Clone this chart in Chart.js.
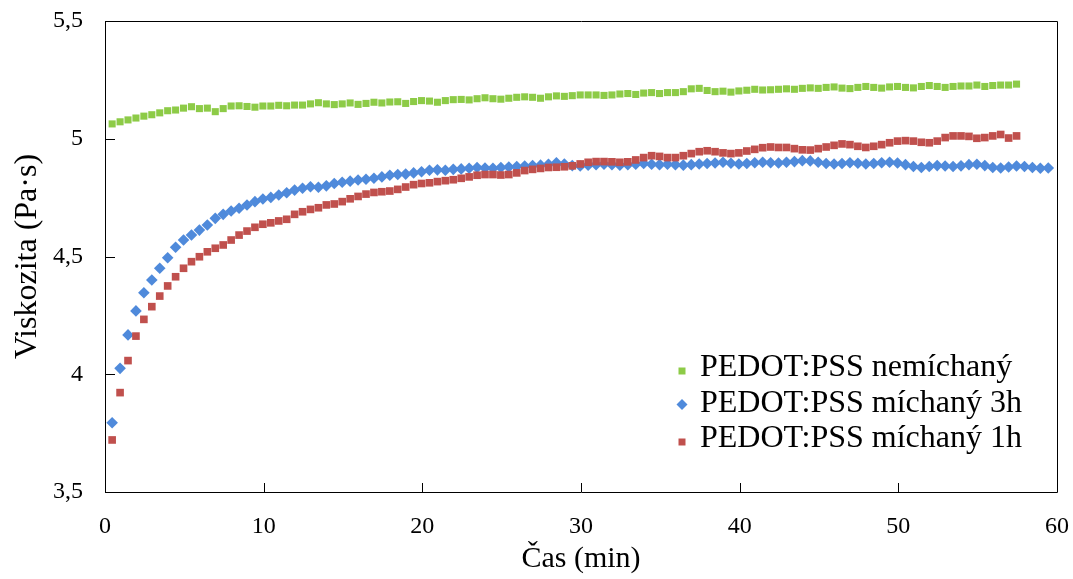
<!DOCTYPE html>
<html>
<head>
<meta charset="utf-8">
<script src="https://cdn.jsdelivr.net/npm/chart.js@4.4.1/dist/chart.umd.min.js"></script>
<style>
  html, body { margin: 0; padding: 0; background: #fff; }
  #wrap { width: 1073px; height: 579px; }
</style>
</head>
<body>
<div id="wrap"><canvas id="c" width="1073" height="579"></canvas></div>
<script>
// ---- data ----
const seriesNames = ['PEDOT:PSS nemíchaný', 'PEDOT:PSS míchaný 3h', 'PEDOT:PSS míchaný 1h'];
const xTickLabels = ['0', '10', '20', '30', '40', '50', '60'];
const yTickLabels = ['3,5', '4', '4,5', '5', '5,5'];

const time = [
  0.45, 0.95, 1.45, 1.95, 2.45, 2.95, 3.45, 3.95, 4.45, 4.95,
  5.45, 5.95, 6.45, 6.95, 7.45, 7.95, 8.45, 8.95, 9.45, 9.95,
  10.45, 10.95, 11.45, 11.95, 12.45, 12.95, 13.45, 13.95, 14.45, 14.95,
  15.45, 15.95, 16.45, 16.95, 17.45, 17.95, 18.45, 18.95, 19.45, 19.95,
  20.45, 20.95, 21.45, 21.95, 22.45, 22.95, 23.45, 23.95, 24.45, 24.95,
  25.45, 25.95, 26.45, 26.95, 27.45, 27.95, 28.45, 28.95, 29.45, 29.95,
  30.45, 30.95, 31.45, 31.95, 32.45, 32.95, 33.45, 33.95, 34.45, 34.95,
  35.45, 35.95, 36.45, 36.95, 37.45, 37.95, 38.45, 38.95, 39.45, 39.95,
  40.45, 40.95, 41.45, 41.95, 42.45, 42.95, 43.45, 43.95, 44.45, 44.95,
  45.45, 45.95, 46.45, 46.95, 47.45, 47.95, 48.45, 48.95, 49.45, 49.95,
  50.45, 50.95, 51.45, 51.95, 52.45, 52.95, 53.45, 53.95, 54.45, 54.95,
  55.45, 55.95, 56.45, 56.95, 57.45, 57.95, 58.45, 58.95, 59.45
];

const nemichany = [
  5.063, 5.072, 5.080, 5.088, 5.096, 5.102, 5.110, 5.119, 5.122, 5.130,
  5.136, 5.128, 5.130, 5.115, 5.128, 5.139, 5.140, 5.137, 5.134, 5.139,
  5.139, 5.142, 5.140, 5.143, 5.143, 5.148, 5.153, 5.148, 5.145, 5.148,
  5.152, 5.146, 5.150, 5.155, 5.152, 5.156, 5.157, 5.150, 5.158, 5.162,
  5.160, 5.155, 5.162, 5.166, 5.167, 5.165, 5.170, 5.174, 5.170, 5.168,
  5.172, 5.176, 5.178, 5.176, 5.172, 5.178, 5.182, 5.180, 5.183, 5.186,
  5.186, 5.186, 5.184, 5.186, 5.190, 5.192, 5.188, 5.194, 5.196, 5.192,
  5.196, 5.196, 5.200, 5.212, 5.214, 5.205, 5.200, 5.202, 5.198, 5.203,
  5.206, 5.210, 5.207, 5.208, 5.210, 5.212, 5.210, 5.214, 5.216, 5.214,
  5.218, 5.220, 5.215, 5.213, 5.218, 5.222, 5.218, 5.215, 5.220, 5.222,
  5.218, 5.216, 5.222, 5.226, 5.222, 5.218, 5.222, 5.224, 5.224, 5.228,
  5.222, 5.226, 5.228, 5.228, 5.232
];

const michany3h = [
  3.794, 4.025, 4.167, 4.269, 4.346, 4.400, 4.450, 4.495, 4.539, 4.570,
  4.591, 4.612, 4.634, 4.662, 4.679, 4.693, 4.705, 4.719, 4.733, 4.744,
  4.751, 4.761, 4.771, 4.782, 4.790, 4.796, 4.794, 4.800, 4.810, 4.815,
  4.820, 4.825, 4.828, 4.832, 4.838, 4.845, 4.848, 4.850, 4.855, 4.860,
  4.866, 4.868, 4.866, 4.870, 4.872, 4.875, 4.878, 4.876, 4.875, 4.878,
  4.880, 4.882, 4.884, 4.886, 4.888, 4.892, 4.898, 4.893, 4.886, 4.884,
  4.888, 4.890, 4.892, 4.890, 4.888, 4.890, 4.892, 4.895, 4.892, 4.890,
  4.892, 4.890, 4.888, 4.890, 4.893, 4.895, 4.897, 4.900, 4.896, 4.893,
  4.895, 4.898, 4.900, 4.898, 4.897, 4.900, 4.903, 4.907, 4.906, 4.900,
  4.895, 4.893, 4.895, 4.898, 4.896, 4.893, 4.895, 4.898, 4.900, 4.897,
  4.890, 4.882, 4.878, 4.882, 4.886, 4.884, 4.882, 4.885, 4.890, 4.892,
  4.886, 4.878, 4.876, 4.880, 4.884, 4.882, 4.878, 4.875, 4.876
];

const michany1h = [
  3.721, 3.922, 4.058, 4.162, 4.233, 4.287, 4.332, 4.375, 4.414, 4.450,
  4.478, 4.499, 4.520, 4.535, 4.549, 4.570, 4.591, 4.608, 4.624, 4.637,
  4.643, 4.651, 4.658, 4.679, 4.690, 4.700, 4.707, 4.719, 4.723, 4.733,
  4.745, 4.755, 4.765, 4.772, 4.775, 4.778, 4.785, 4.795, 4.805, 4.810,
  4.813, 4.818, 4.822, 4.826, 4.832, 4.838, 4.845, 4.848, 4.848, 4.846,
  4.848, 4.855, 4.865, 4.870, 4.874, 4.878, 4.879, 4.881, 4.885, 4.893,
  4.900, 4.903, 4.903, 4.902, 4.900, 4.902, 4.910, 4.920, 4.928, 4.925,
  4.920, 4.920, 4.928, 4.937, 4.945, 4.949, 4.945, 4.940, 4.937, 4.940,
  4.948, 4.955, 4.962, 4.965, 4.963, 4.963, 4.958, 4.953, 4.952, 4.958,
  4.965, 4.972, 4.978, 4.975, 4.968, 4.963, 4.968, 4.975, 4.983, 4.990,
  4.992, 4.990, 4.985, 4.983, 4.990, 5.005, 5.012, 5.012, 5.010, 5.002,
  5.005, 5.012, 5.018, 5.003, 5.012
];

// ---- styles ----
const GREEN = '#8DCB47';
const BLUE = '#4F8ADB';
const RED = '#C0504D';
const FONT = "'Liberation Serif', 'Times New Roman', serif";

function pts(values) {
  return values.map((v, i) => ({ x: time[i], y: v }));
}

const frame = {
  id: 'frame',
  afterDatasetsDraw(chart) {
    const { ctx, chartArea: a, scales: { x, y } } = chart;
    ctx.save();
    ctx.strokeStyle = '#000';
    ctx.lineWidth = 1;
    ctx.beginPath();
    ctx.rect(Math.round(a.left) + 0.5, Math.round(a.top) + 0.5,
             Math.round(a.right - a.left), Math.round(a.bottom - a.top));
    x.ticks.forEach(t => {
      const px = Math.round(x.getPixelForValue(t.value)) + 0.5;
      ctx.moveTo(px, a.bottom);
      ctx.lineTo(px, a.bottom - 9);
    });
    y.ticks.forEach(t => {
      const py = Math.round(y.getPixelForValue(t.value)) + 0.5;
      ctx.moveTo(a.left, py);
      ctx.lineTo(a.left + 10, py);
    });
    ctx.stroke();
    ctx.restore();
  },
  afterDraw(chart) {
    // legend inside the plot area
    const { ctx } = chart;
    const rows = [
      { text: seriesNames[0], color: GREEN, shape: 'rect', size: 3.5 },
      { text: seriesNames[1], color: BLUE, shape: 'diamond', size: 5.5 },
      { text: seriesNames[2], color: RED, shape: 'rect', size: 3.5 }
    ];
    const mx = 682, tx = 700, y0 = 368, dy = 35.5;
    ctx.save();
    ctx.font = '32px ' + FONT;
    ctx.fillStyle = '#000';
    ctx.textBaseline = 'middle';
    ctx.textAlign = 'left';
    rows.forEach((r, i) => {
      const cy = y0 + i * dy;
      ctx.fillStyle = r.color;
      ctx.beginPath();
      if (r.shape === 'rect') {
        ctx.rect(mx - r.size, cy + 3 - r.size, 2 * r.size, 2 * r.size);
      } else {
        ctx.moveTo(mx, cy + 1 - r.size);
        ctx.lineTo(mx + r.size, cy + 1);
        ctx.lineTo(mx, cy + 1 + r.size);
        ctx.lineTo(mx - r.size, cy + 1);
        ctx.closePath();
      }
      ctx.fill();
      ctx.fillStyle = '#000';
      ctx.fillText(r.text, tx, cy);
    });
    ctx.restore();
  }
};

new Chart(document.getElementById('c'), {
  type: 'scatter',
  data: {
    datasets: [
      { label: seriesNames[0], data: pts(nemichany), pointStyle: 'rect', pointRadius: 5,
        backgroundColor: GREEN, borderColor: GREEN, borderWidth: 0, order: 1 },
      { label: seriesNames[1], data: pts(michany3h), pointStyle: 'rectRot', pointRadius: 5.8,
        backgroundColor: BLUE, borderColor: BLUE, borderWidth: 0, order: 2 },
      { label: seriesNames[2], data: pts(michany1h), pointStyle: 'rect', pointRadius: 5.4,
        backgroundColor: RED, borderColor: RED, borderWidth: 0, order: 0 }
    ]
  },
  options: {
    responsive: false,
    animation: false,
    devicePixelRatio: 1,
    layout: { padding: { top: 21, right: 16, left: 0, bottom: 0 } },
    plugins: { legend: { display: false }, tooltip: { enabled: false } },
    scales: {
      x: {
        type: 'linear', min: 0, max: 60,
        afterBuildTicks: s => { s.ticks = xTickLabels.map(v => ({ value: Number(v) })); },
        ticks: { color: '#000', font: { family: FONT, size: 24 }, padding: 20,
                 callback: (v) => xTickLabels[xTickLabels.indexOf(String(v))] },
        grid: { display: false, drawTicks: false },
        border: { display: false },
        title: { display: true, text: 'Čas (min)', color: '#000',
                 font: { family: FONT, size: 30 }, padding: { top: 0, bottom: 2 } },
        afterFit: s => { s.height = 87; s.paddingLeft = 0; s.paddingRight = 0; }
      },
      y: {
        type: 'linear', min: 3.5, max: 5.5,
        afterBuildTicks: s => { s.ticks = yTickLabels.map(v => ({ value: Number(v.replace(',', '.')) })); },
        ticks: { color: '#000', font: { family: FONT, size: 24 }, padding: 22,
                 callback: (v) => yTickLabels.find(l => Number(l.replace(',', '.')) === v) },
        grid: { display: false, drawTicks: false },
        border: { display: false },
        title: { display: true, text: 'Viskozita (Pa·s)', color: '#000',
                 font: { family: FONT, size: 32 }, padding: { top: 8, bottom: 0 } },
        afterFit: s => { s.width = 105; s.paddingTop = 0; s.paddingBottom = 0; }
      }
    }
  },
  plugins: [frame]
});
</script>
</body>
</html>
